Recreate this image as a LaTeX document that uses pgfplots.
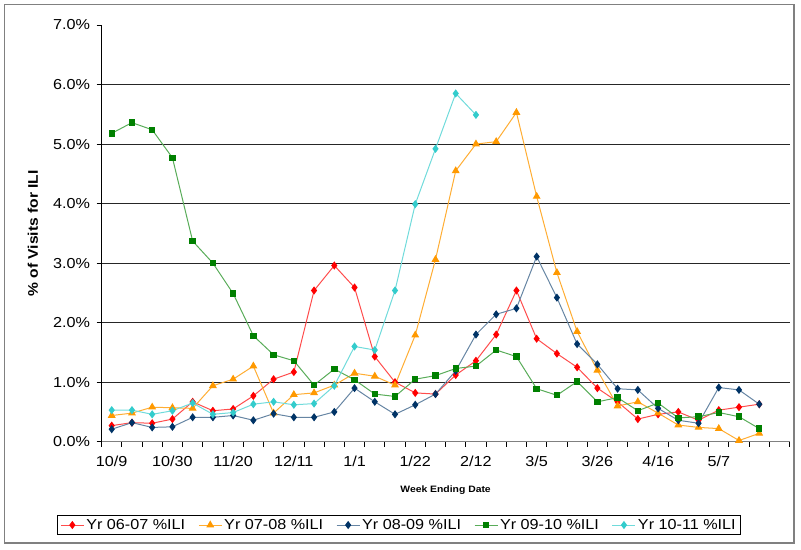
\documentclass[border=0pt]{standalone}
\usepackage{pgfplots}
\pgfplotsset{compat=1.18}
\usepackage{fontspec}
\setmainfont{Liberation Sans}[FakeStretch=1.12]
\definecolor{myred}{HTML}{FF0000}
\definecolor{myorange}{HTML}{FF9900}
\definecolor{myblue}{HTML}{003366}
\definecolor{mygreen}{HTML}{008000}
\definecolor{mycyan}{HTML}{33CCCC}
\begin{document}
\begin{tikzpicture}
\begin{axis}[
  at={(0,0)}, anchor=south west,
  scale only axis, width=688bp, height=416.7bp,
  xmin=-0.5, xmax=33.5, ymin=0, ymax=7,
  axis x line*=bottom, axis y line*=left,
  x axis line style={-, draw=black!50, line width=1.3bp},
  y axis line style={-, draw=black, line width=0.9bp},
  xtick={0,3,...,30},
  xticklabels={10/9,10/30,11/20,12/11,1/1,1/22,2/12,3/5,3/26,4/16,5/7},
  major x tick style={draw=none},
  minor xtick={-0.5,0.5,...,33.5},
  minor x tick style={draw=black, line width=0.8bp},
  tick align=outside,
  major tick length=5bp, minor tick length=5bp,
  ytick={0,1,...,6},
  extra y ticks={7}, extra y tick style={grid=none},
  y tick style={draw=black, line width=0.8bp},
  yticklabel={\pgfmathprintnumber[fixed,fixed zerofill,precision=1]{\tick}\%},
  /pgf/number format/assume math mode=true,
  ymajorgrids,
  grid style={draw=black!85, line width=0.9bp},
  tick label style={font=\fontsize{14.5}{16}\selectfont},
  xticklabel style={yshift=-6bp},
  yticklabel style={xshift=-3bp},
  xlabel={Week Ending Date},
  xlabel style={font=\fontsize{9.3}{11}\selectfont\bfseries, at={(axis description cs:0.5,0)}, anchor=center, yshift=-48.5bp},
  ylabel={\% of Visits for ILI},
  ylabel style={font=\fontsize{14}{16}\selectfont\bfseries, at={(axis description cs:-0.0997,0.5)}, anchor=center},
  legend columns=5,
  legend style={at={(0.4323,-0.2)}, anchor=center, draw=black, line width=0.8bp,
    font=\fontsize{14.5}{16}\selectfont, inner xsep=3bp, inner ysep=1.5bp,
    /tikz/every even column/.append style={column sep=11bp}},
  legend image code/.code={\draw[#1, mark=none] (0bp,0bp) -- (23bp,0bp);
     \path[#1, draw=none] plot coordinates {(11.5bp,0bp)};},
  clip=false,
]
\addplot[line width=1bp, color=myred!70!white, mark=diamond*, mark size=3.3bp, mark options={fill=myred, draw=myred}]
 coordinates {(0,0.27)(1,0.32)(2,0.31)(3,0.38)(4,0.67)(5,0.52)(6,0.55)(7,0.77)(8,1.05)(9,1.17)(10,2.54)(11,2.96)(12,2.59)(13,1.43)(14,1.00)(15,0.82)(16,0.80)(17,1.12)(18,1.36)(19,1.80)(20,2.54)(21,1.73)(22,1.48)(23,1.25)(24,0.90)(25,0.67)(26,0.38)(27,0.46)(28,0.50)(29,0.36)(30,0.53)(31,0.58)(32,0.63)};
\addlegendentry{Yr 06-07 \%ILI}
\addplot[line width=1bp, color=myorange!80!white, mark=triangle*, mark size=3.6bp, mark options={solid, fill=myorange, draw=myorange}]
 coordinates {(0,0.44)(1,0.48)(2,0.58)(3,0.57)(4,0.56)(5,0.94)(6,1.05)(7,1.27)(8,0.48)(9,0.79)(10,0.82)(11,0.95)(12,1.15)(13,1.10)(14,0.95)(15,1.79)(16,3.06)(17,4.55)(18,5.00)(19,5.04)(20,5.53)(21,4.12)(22,2.84)(23,1.85)(24,1.20)(25,0.60)(26,0.67)(27,0.48)(28,0.28)(29,0.24)(30,0.22)(31,0.02)(32,0.14)};
\addlegendentry{Yr 07-08 \%ILI}
\addplot[line width=1bp, color=myblue!60!white, mark=diamond*, mark size=3.3bp, mark options={fill=myblue, draw=myblue}]
 coordinates {(0,0.21)(1,0.32)(2,0.24)(3,0.25)(4,0.41)(5,0.41)(6,0.44)(7,0.36)(8,0.47)(9,0.41)(10,0.41)(11,0.50)(12,0.90)(13,0.67)(14,0.46)(15,0.62)(16,0.80)(17,1.19)(18,1.80)(19,2.14)(20,2.24)(21,3.11)(22,2.42)(23,1.64)(24,1.30)(25,0.89)(26,0.87)(27,0.56)(28,0.36)(29,0.31)(30,0.91)(31,0.87)(32,0.63)};
\addlegendentry{Yr 08-09 \%ILI}
\addplot[line width=1bp, color=mygreen!65!white, mark=square*, mark size=2.7bp, mark options={fill=mygreen, draw=mygreen}]
 coordinates {(0,5.18)(1,5.36)(2,5.24)(3,4.77)(4,3.37)(5,3.00)(6,2.49)(7,1.78)(8,1.46)(9,1.36)(10,0.95)(11,1.22)(12,1.04)(13,0.80)(14,0.76)(15,1.05)(16,1.11)(17,1.23)(18,1.27)(19,1.54)(20,1.43)(21,0.89)(22,0.78)(23,1.01)(24,0.67)(25,0.74)(26,0.52)(27,0.65)(28,0.40)(29,0.42)(30,0.49)(31,0.42)(32,0.22)};
\addlegendentry{Yr 09-10 \%ILI}
\addplot[line width=1bp, color=mycyan!70!white, mark=diamond*, mark size=3.3bp, mark options={fill=mycyan, draw=mycyan}]
 coordinates {(0,0.53)(1,0.53)(2,0.46)(3,0.52)(4,0.65)(5,0.46)(6,0.49)(7,0.63)(8,0.67)(9,0.62)(10,0.64)(11,0.94)(12,1.60)(13,1.54)(14,2.54)(15,3.99)(16,4.92)(17,5.85)(18,5.49)};
\addlegendentry{Yr 10-11 \%ILI}
\end{axis}
\path[use as bounding box] (-101.6bp,-108.3bp) rectangle (699.4bp,441.7bp);
\draw[draw=black!50, line width=1.4bp] (-97.1bp,-101.3bp) rectangle (692.4bp,437.2bp);
\end{tikzpicture}
\end{document}
